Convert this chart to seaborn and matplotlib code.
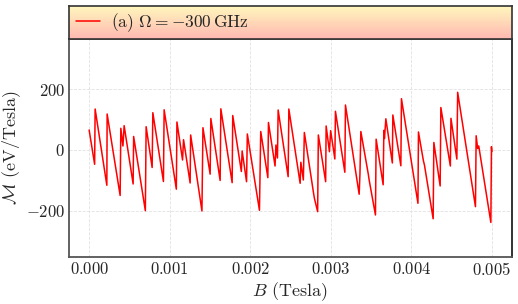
import numpy as np
import pandas as pd
import matplotlib
matplotlib.use('Agg')
import matplotlib.pyplot as plt
import seaborn as sns
from matplotlib.colors import LinearSegmentedColormap

# magnetisation trace (B in mT, M in eV/Tesla)
B_mT = [0.0, 0.0683, 0.0745, 0.2198, 0.2235, 0.3849, 0.3936, 0.4197, 0.4346, 0.5463,
        0.5525, 0.6978, 0.7077, 0.7822, 0.7909, 0.9225, 0.9312, 1.0827, 1.0901, 1.1597,
        1.1721, 1.2540, 1.2603, 1.4005, 1.4130, 1.5024, 1.5111, 1.6265, 1.6352, 1.7755,
        1.7830, 1.8898, 1.8997, 1.9543, 1.9642, 2.1145, 2.1306, 2.2188, 2.2262, 2.3082,
        2.3193, 2.3380, 2.3467, 2.4708, 2.4795, 2.6198, 2.6285, 2.6595, 2.6720, 2.7875,
        2.7974, 2.8371, 2.8458, 2.9364, 2.9426, 2.9836, 2.9985, 3.0507, 3.0581, 3.1748,
        3.1823, 3.3524, 3.3623, 3.3735, 3.4666, 3.4765, 3.5548, 3.5634, 3.6504, 3.6591,
        3.6665, 3.6839, 3.7646, 3.7708, 3.8701, 3.8776, 4.0824, 4.0887, 4.1507, 4.1632,
        4.2712, 4.2799, 4.3581, 4.3668, 4.4847, 4.4922, 4.5654, 4.5754, 4.7964, 4.8051,
        4.8237, 4.8373, 4.9876, 4.9950, 5.0000]
M_vals = [65.6, -46.9, 134.4, -115.7, 118.0, -149.2, 71.1, 13.1, 79.7, -111.5,
          44.3, -199.0, 76.4, -57.4, 122.3, -103.3, 131.8, -128.5, 91.8, -32.8,
          33.8, -108.2, 49.2, -200.0, 73.1, -79.3, 103.3, -100.0, 135.1, -107.2,
          113.1, -70.5, -3.3, -103.9, 52.5, -197.7, 60.7, -90.8, 90.2, -52.5,
          16.4, -26.2, 131.1, -87.5, 134.4, -109.2, -40.3, -98.4, 57.4, -143.6,
          -159.0, -202.3, 49.2, -103.9, 78.7, -5.6, 63.3, -29.5, 126.9, -73.1,
          147.5, -145.2, -78.7, 60.7, -80.3, -98.4, -213.1, 35.4, -114.1, 64.3,
          37.7, 102.3, -42.6, 114.8, -51.8, 168.2, -174.8, 59.0, -36.1, -49.2,
          -225.6, 24.6, -118.0, 139.3, -52.5, 103.9, -29.8, 189.2, -185.9, 46.6,
          4.9, 13.1, -237.7, 10.8, -5.6]
x_ticks = [0.000, 0.001, 0.002, 0.003, 0.004, 0.005]
y_ticks = [-200, 0, 200]
label = r'(a) $\Omega = -300\,\mathrm{GHz}$'

df = pd.DataFrame({'B': np.array(B_mT) * 1e-3, 'M': M_vals})

sns.set_style('white')
plt.rcParams['font.family'] = 'serif'
plt.rcParams['font.serif'] = ['cmr10']
plt.rcParams['mathtext.fontset'] = 'cm'
plt.rcParams['axes.formatter.use_mathtext'] = True
plt.rcParams['axes.unicode_minus'] = True
plt.rcParams['font.size'] = 12

fig = plt.figure(figsize=(5.18, 3.04), dpi=100)
ax = fig.add_axes([0.1332, 0.1536, 0.8552, 0.7191])

sns.lineplot(data=df, x='B', y='M', color='red', lw=1.1, sort=False,
             estimator=None, ax=ax)

ax.set_xlim(-0.00025, 0.00525)
ax.set_ylim(-352, 365)
ax.set_xticks(x_ticks)
ax.set_yticks(y_ticks)
ax.grid(True, linestyle='--', linewidth=0.6, color='#e2e2e2')
ax.tick_params(axis='both', labelsize=12, direction='in', length=3,
               color='#555555', pad=3)
ax.set_xlabel(r'$B$ (Tesla)', fontsize=13, labelpad=1)
ax.set_ylabel(r'$\mathcal{M}$ (eV/Tesla)', fontsize=13, labelpad=2)
for s in ax.spines.values():
    s.set_color('#555555')
    s.set_linewidth(1.3)
ax.spines['right'].set_color('#222222')

# gradient header with the legend
hdr = fig.add_axes([0.1332, 0.8727, 0.8552, 0.1085])
cmap = LinearSegmentedColormap.from_list('hdr', ['#fff7bd', '#ffb8b2'])
grad = np.linspace(0, 1, 100).reshape(-1, 1)
hdr.imshow(grad, aspect='auto', cmap=cmap, extent=[0, 1, 0, 1])
hdr.set_xticks([])
hdr.set_yticks([])
for s in hdr.spines.values():
    s.set_color('#333333')
    s.set_linewidth(1.2)
handles = ax.get_lines()[:1]
hdr.legend(handles, [label], loc='center left', frameon=False, fontsize=12.5,
           handlelength=1.4, handletextpad=0.6, borderaxespad=0.0, borderpad=0.4)

fig.savefig('out.png', dpi=100)
